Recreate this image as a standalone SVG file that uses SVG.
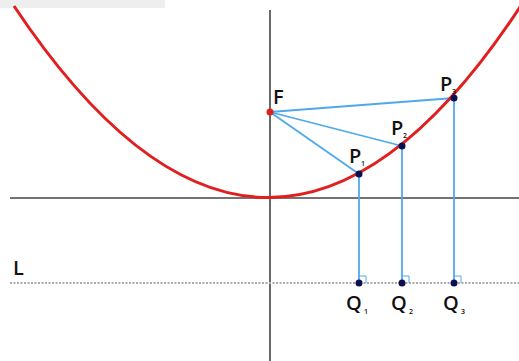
<svg xmlns="http://www.w3.org/2000/svg" width="519" height="361" viewBox="0 0 519 361">
<style>
.axis{stroke:#444;stroke-width:1.6;fill:none}
.dir{stroke:#aaa;stroke-width:2;stroke-dasharray:2 1.5;fill:none}
.blue{stroke:#4ea9ec;stroke-width:1.8;fill:none}
.curve{stroke:#e21f1f;stroke-width:3;fill:none}
.pt{fill:#0a1050}
.sq{stroke:#4ea9ec;stroke-width:1;fill:none}
text{font-family:"Open Sans","DejaVu Sans",sans-serif;fill:#111;font-weight:600}
.lbl{font-size:20px}
.sub{font-size:7px}
</style>
<rect width="519" height="361" fill="#fff"/>
<rect x="0" y="0" width="165" height="8" fill="#eee"/>
<g id="axes">
<line class="axis" x1="270" y1="10" x2="270" y2="361"/>
<line class="axis" x1="10" y1="198" x2="519" y2="198"/>
<line class="dir" x1="10" y1="283" x2="519" y2="283"/>
</g>
<g id="connectors">
<line class="blue" x1="270" y1="112" x2="359" y2="174"/>
<line class="blue" x1="270" y1="112" x2="402" y2="146"/>
<line class="blue" x1="270" y1="112" x2="454" y2="98"/>
<line class="blue" x1="359" y1="174" x2="359" y2="283"/>
<line class="blue" x1="402" y1="146" x2="402" y2="283"/>
<line class="blue" x1="454" y1="98" x2="454" y2="283"/>
<path class="sq" d="M359 276 H366 V283 M402 276 H409 V283 M454 276 H461 V283"/>
</g>
<g id="parabola">
<path class="curve" d="M14 6 Q270 390 522 4"/>
</g>
<g id="F"><circle cx="270" cy="112" r="3.5" fill="#e21f1f"/><text class="lbl" x="273" y="104">F</text></g>
<g id="P1"><circle class="pt" cx="359" cy="174" r="3.5"/><text class="lbl" x="349" y="163">P</text><text class="sub" x="361" y="166">1</text></g>
<g id="P2"><circle class="pt" cx="402" cy="146" r="3.5"/><text class="lbl" x="391" y="135">P</text><text class="sub" x="403" y="138">2</text></g>
<g id="P3"><circle class="pt" cx="454" cy="98" r="3.5"/><text class="lbl" x="440" y="91">P</text><text class="sub" x="452" y="94">3</text></g>
<g id="Q1"><circle class="pt" cx="359" cy="283" r="3.5"/><text class="lbl" x="346" y="310">Q</text><text class="sub" x="364" y="314">1</text></g>
<g id="Q2"><circle class="pt" cx="402" cy="283" r="3.5"/><text class="lbl" x="391" y="310">Q</text><text class="sub" x="409" y="314">2</text></g>
<g id="Q3"><circle class="pt" cx="454" cy="283" r="3.5"/><text class="lbl" x="443" y="310">Q</text><text class="sub" x="461" y="314">3</text></g>
<g id="L"><text class="lbl" x="13" y="275">L</text></g>
</svg>
